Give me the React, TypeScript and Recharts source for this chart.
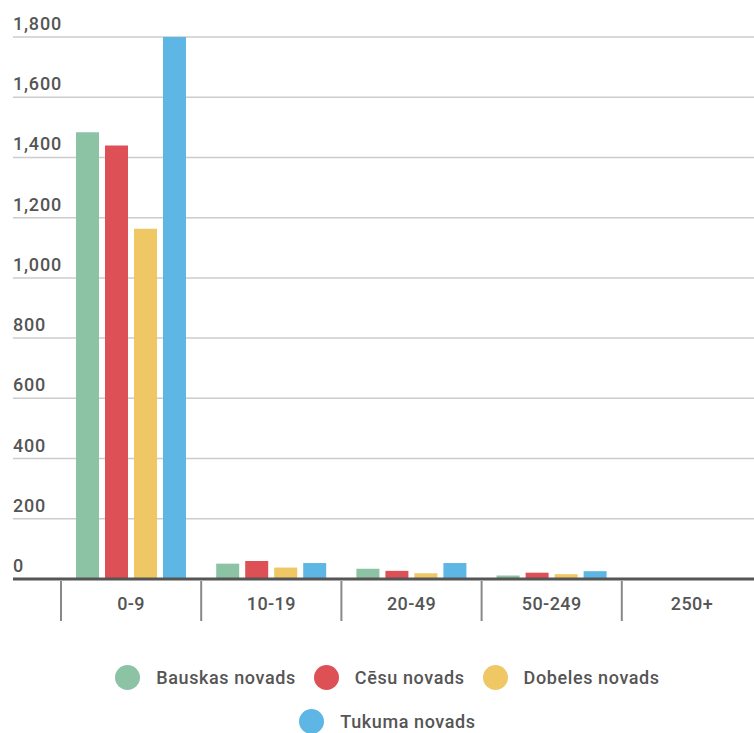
import { BarChart, Bar, XAxis, YAxis, CartesianGrid, Legend } from 'recharts'

const categories = ['0-9', '10-19', '20-49', '50-249', '250+']
const bauska = [1484, 51, 34, 12, 2]
const cesis = [1440, 60, 27, 21, 2]
const dobele = [1163, 38, 19, 16, 3]
const tukums = [1800, 53, 53, 26, 1]
const yTicks = [0, 200, 400, 600, 800, 1000, 1200, 1400, 1600, 1800]

const seriesList = [
    { key: 'bauska', name: 'Bauskas novads', color: '#8bc3a4' },
    { key: 'cesis', name: 'Cēsu novads', color: '#dd5156' },
    { key: 'dobele', name: 'Dobeles novads', color: '#efc865' },
    { key: 'tukums', name: 'Tukuma novads', color: '#5db6e4' },
]

const data = categories.map((cat, i) => ({
    cat,
    bauska: bauska[i],
    cesis: cesis[i],
    dobele: dobele[i],
    tukums: tukums[i],
}))

const FONT = 'Roboto, "Noto Sans", sans-serif'
const TEXT = '#555'

function formatNumber(value: number) {
    return value.toLocaleString('en-US')
}

function YTick(props: any) {
    const { y, payload } = props
    const x = Number.isFinite(props.x) ? props.x : 14
    return (
        <text x={x} y={y - 7} textAnchor="start" fill={TEXT} fontSize={18} fontWeight={500} fontFamily={FONT} letterSpacing={0.8}>
            {formatNumber(payload.value)}
        </text>
    )
}

function XTick(props: any) {
    const { x, y, payload } = props
    const half = payload.offset ?? 70
    return (
        <g>
            <line x1={x - half} x2={x - half} y1={y + 2} y2={y + 42} stroke="#888" strokeWidth={2} />
            <text x={x} y={y + 31} textAnchor="middle" fill={TEXT} fontSize={18} fontWeight={500} fontFamily={FONT} letterSpacing={0.4}>
                {payload.value}
            </text>
        </g>
    )
}

function LegendContent() {
    return (
        <div style={{ height: 78, display: 'flex', justifyContent: 'center' }}>
            <div style={{ width: 620, display: 'flex', flexWrap: 'wrap', justifyContent: 'center', alignContent: 'flex-start' }}>
                {seriesList.map((s) => (
                    <div key={s.key} style={{ display: 'flex', alignItems: 'center', height: 44, margin: '0 9px', fontFamily: FONT, fontSize: 18, fontWeight: 500, letterSpacing: 0.6, color: TEXT }}>
                        <span style={{ width: 25, height: 25, borderRadius: '50%', background: s.color, marginRight: 16, display: 'inline-block' }} />
                        {s.name}
                    </div>
                ))}
            </div>
        </div>
    )
}

function App() {
    return (
        <div style={{ position: 'fixed', left: 0, top: 0, width: 754, height: 733, overflow: 'hidden', background: '#fff' }}>
            <BarChart
                width={763}
                height={733}
                data={data}
                margin={{ top: 37, right: 1, left: 13, bottom: 0 }}
                barSize={23}
                barGap={6}
            >
                <CartesianGrid vertical={false} stroke="#cccccc" strokeWidth={1.5} />
                <XAxis
                    dataKey="cat"
                    height={76}
                    padding={{ left: 48, right: 0 }}
                    axisLine={{ stroke: '#555', strokeWidth: 3 }}
                    tickLine={false}
                    tickSize={0}
                    tickMargin={0}
                    tick={<XTick />}
                    interval={0}
                />
                <YAxis
                    width={1}
                    mirror
                    domain={[0, 1800]}
                    ticks={yTicks}
                    axisLine={false}
                    tickLine={false}
                    tickSize={0}
                    tickMargin={0}
                    tick={<YTick />}
                    allowDataOverflow
                />
                <Legend verticalAlign="bottom" content={<LegendContent />} />
                {seriesList.map((s) => (
                    <Bar key={s.key} dataKey={s.key} name={s.name} fill={s.color} isAnimationActive={false} />
                ))}
            </BarChart>
        </div>
    )
}

export default App
